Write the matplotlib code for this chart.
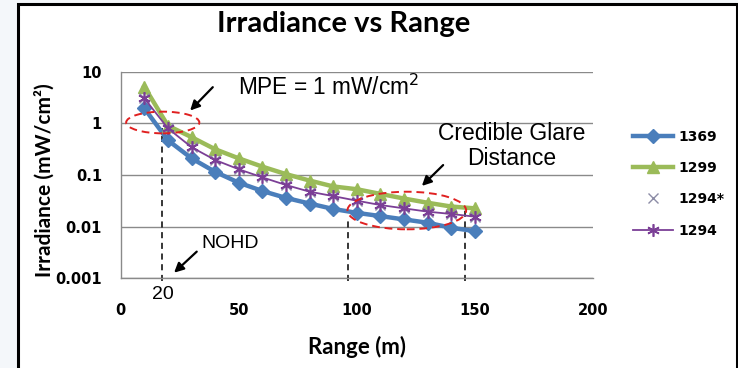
import matplotlib
matplotlib.use('Agg')
import matplotlib.pyplot as plt
from matplotlib.patches import Ellipse, Rectangle

# data
rng = [10, 20, 30, 40, 50, 60, 70, 80, 90, 100, 110, 120, 130, 140, 150]
s1369 = [1.95, 0.47, 0.21, 0.115, 0.071, 0.049, 0.036, 0.028, 0.022, 0.0185, 0.016, 0.0138, 0.0119, 0.0095, 0.0082]
s1299 = [5.1, 0.9, 0.54, 0.315, 0.21, 0.145, 0.104, 0.078, 0.06, 0.053, 0.043, 0.035, 0.029, 0.0245, 0.0226]
s1294 = [3.05, 0.8, 0.345, 0.195, 0.129, 0.09, 0.064, 0.0475, 0.039, 0.0318, 0.0262, 0.0226, 0.0195, 0.0176, 0.0156]
s1294s = s1294
labels = ['1369', '1299', '1294*', '1294']
yticks = [0.001, 0.01, 0.1, 1, 10]
ytick_labels = ['0.001', '0.01', '0.1', '1', '10']
xticks = [0, 50, 100, 150, 200]

# dashed markers (range, top value)
vlines = [(17.5, 0.8), (96.5, 0.0156), (146, 0.0217)]

narrow = ['Lato', 'DejaVu Sans']
arial = ['Liberation Sans', 'DejaVu Sans']

fig = plt.figure(figsize=(7.38, 3.68), dpi=100)
fig.patch.set_facecolor('#f4f7fa')
fig.patches.append(Rectangle((0.0244, -0.05), 0.9736, 1.0378, transform=fig.transFigure,
                             facecolor='white', edgecolor='black', linewidth=2.2, zorder=-1))

ax = fig.add_axes([0.1636, 0.2438, 0.6396, 0.5614])
ax.set_facecolor('white')

ax.plot(rng, s1369, color='#4a7ebb', lw=3.2, marker='D', ms=7, label=labels[0], zorder=3)
ax.plot(rng, s1299, color='#9bbb59', lw=3.2, marker='^', ms=8.5, label=labels[1], zorder=3)
ax.plot(rng, s1294s, color='#8c8ca6', ls='none', marker='x', ms=7, mew=1.0, label=labels[2], zorder=3)
ax.plot(rng, s1294, color='#7b3f96', lw=1.3, marker=(6, 2, 0), ms=9, mew=1.2, label=labels[3], zorder=4)

ax.set_yscale('log')
ax.set_ylim(0.001, 10)
ax.set_xlim(0, 200)
ax.set_yticks(yticks)
ax.set_yticklabels(ytick_labels)
ax.minorticks_off()
ax.set_xticks(xticks)
ax.set_xticklabels([str(t) for t in xticks])
ax.tick_params(length=0, labelsize=10.5)
ax.tick_params(axis='y', pad=13.5)
ax.tick_params(axis='x', pad=18)
for t in ax.get_xticklabels() + ax.get_yticklabels():
    t.set_fontweight('bold')

ax.grid(axis='y', color='#8a8a8a', lw=1.0)
ax.set_axisbelow(True)
for s in ['top', 'right']:
    ax.spines[s].set_visible(False)
for s in ['left', 'bottom']:
    ax.spines[s].set_color('#8a8a8a')
    ax.spines[s].set_linewidth(1.0)

ax.set_xlabel('Range (m)', family=narrow, fontweight='bold', fontsize=16, labelpad=13)
ax.set_ylabel('Irradiance (mW/cm²)', family=narrow, fontweight='bold', fontsize=15)
ax.yaxis.set_label_coords(-0.141, 0.476)
fig.text(0.466, 0.935, 'Irradiance vs Range', family=narrow, fontweight='bold',
         fontsize=21, ha='center', va='center')

for x, top in vlines:
    ax.plot([x, x], [0.00088, top], color='black', lw=1.1, ls=(0, (4, 3)), clip_on=False, zorder=2)

# annotations
ax.add_patch(Ellipse((0.089, 0.754), 0.155, 0.105, transform=ax.transAxes, fill=False,
                     edgecolor='#e02020', lw=1.4, ls=(0, (4, 2.5)), zorder=5))
ax.add_patch(Ellipse((0.606, 0.328), 0.2515, 0.182, transform=ax.transAxes, fill=False,
                     edgecolor='#e02020', lw=1.4, ls=(0, (4, 2.5)), zorder=5))

arrowprops = dict(arrowstyle='-|>', color='black', lw=1.6, mutation_scale=14, shrinkA=0, shrinkB=0)
ax.annotate('', xy=(0.147, 0.812), xytext=(0.195, 0.925), xycoords='axes fraction', arrowprops=arrowprops)
ax.annotate('', xy=(0.638, 0.447), xytext=(0.683, 0.548), xycoords='axes fraction', arrowprops=arrowprops)
ax.annotate('', xy=(0.113, 0.027), xytext=(0.161, 0.129), xycoords='axes fraction', arrowprops=arrowprops)

ax.text(0.2485, 0.926, 'MPE = 1 mW/cm$^2$', transform=ax.transAxes, family=arial,
        fontsize=16.3, ha='left', va='center')
ax.text(0.828, 0.64, 'Credible Glare\nDistance', transform=ax.transAxes, family=arial,
        fontsize=16.5, ha='center', va='center', multialignment='center', linespacing=1.1)
ax.text(0.1716, 0.166, 'NOHD', transform=ax.transAxes, family=arial, fontsize=14,
        ha='left', va='center')
ax.text(0.0886, -0.08, '20', transform=ax.transAxes, family=arial, fontsize=14,
        ha='center', va='center')

leg = ax.legend(loc='upper left', bbox_to_anchor=(0.8577, 0.648), bbox_transform=fig.transFigure,
                frameon=False, borderpad=0, borderaxespad=0, handlelength=2.9, handletextpad=0.35,
                labelspacing=1.25, prop={'weight': 'bold', 'size': 10})

fig.savefig('out.png', dpi=100, facecolor=fig.get_facecolor())
